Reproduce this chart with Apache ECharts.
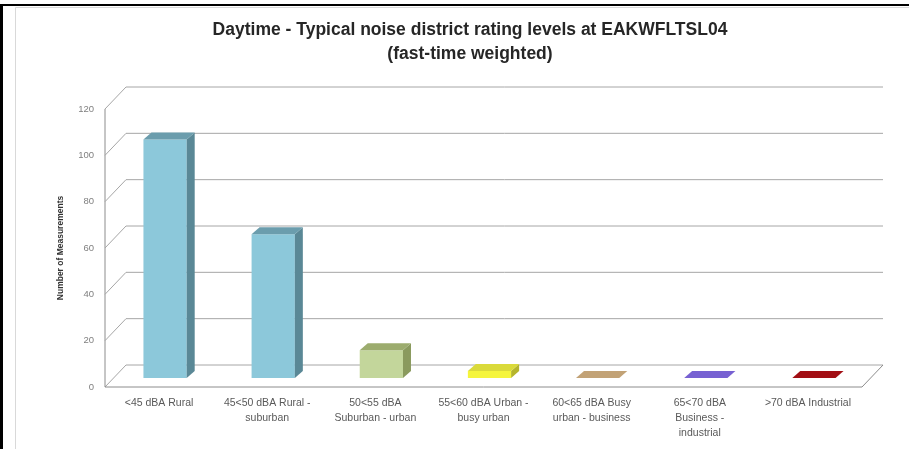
<!DOCTYPE html>
<html>
<head>
<meta charset="utf-8">
<script src="https://cdn.jsdelivr.net/npm/echarts@6/dist/echarts.min.js"></script>
<style>
html,body{margin:0;padding:0;background:#fff;}
#chart{width:909px;height:449px;}
</style>
</head>
<body>
<div id="chart"></div>
<script>
// ---- data ----
const titleText = 'Daytime - Typical noise district rating levels at EAKWFLTSL04\n(fast-time weighted)';
const yAxisTitle = 'Number of Measurements';
const categories = [
  '<45 dBA Rural',
  '45<50 dBA Rural -\nsuburban',
  '50<55 dBA\nSuburban - urban',
  '55<60 dBA Urban -\nbusy urban',
  '60<65 dBA Busy\nurban - business',
  '65<70 dBA\nBusiness -\nindustrial',
  '>70 dBA Industrial'
];
const values = [103, 62, 12, 3, 0, 0, 0];
const yTicks = [0, 20, 40, 60, 80, 100, 120];
const frontColors = ['#8CC8DA', '#8CC8DA', '#C3D69B', '#F5F53C', '#C8A87C', '#7E66D8', '#A8101A'];
const topColors   = ['#6B9DAD', '#6B9DAD', '#9CAC6E', '#DADA3A', '#C2A276', '#7761D2', '#A20E14'];
const sideColors  = ['#5A8896', '#5A8896', '#8A9A5E', '#B5B52C', '#A88C62', '#5F4BB0', '#7E0A10'];

// ---- geometry styling ----
const DEPTH = [21, -22];      // wall depth vector
const BAR_OFF = [6, -9];      // bar front face offset within depth
const BAR_DEPTH = [8, -7];    // bar depth
const LINE_COLOR = '#A6A6A6';

const chart = echarts.init(document.getElementById('chart'), null, {renderer: 'canvas'});

function wallItem(params, api) {
  const cs = params.coordSys;
  const v = api.value(0);
  const y = api.coord([0, v])[1];
  const x0 = cs.x, x1 = cs.x + cs.width;
  const children = [{
    type: 'polyline',
    shape: {points: [[x0, y], [x0 + DEPTH[0], y + DEPTH[1]], [x1 + DEPTH[0], y + DEPTH[1]]]},
    style: {stroke: LINE_COLOR, lineWidth: 1, fill: null}
  }];
  if (v === 0) {
    const yTop = api.coord([0, yTicks[yTicks.length - 1]])[1];
    children.push({
      type: 'polyline',
      shape: {points: [[x0, yTop], [x0, y], [x1, y], [x1 + DEPTH[0], y + DEPTH[1]]]},
      style: {stroke: '#8C8C8C', lineWidth: 1, fill: null}
    });
  }
  return {type: 'group', children: children};
}

function barItem(params, api) {
  const i = api.value(0);
  const v = api.value(1);
  const base = api.coord([i, 0]);
  const top = api.coord([i, v]);
  const bw = api.size([1, 0])[0] * 0.40;
  const xl = base[0] + BAR_OFF[0] - bw / 2;
  const xr = xl + bw;
  const yb = base[1] + BAR_OFF[1];
  const yt = top[1] + BAR_OFF[1];
  const dx = BAR_DEPTH[0], dy = BAR_DEPTH[1];
  const children = [];
  if (yb - yt > 0.5) {
    children.push({
      type: 'rect',
      shape: {x: xl, y: yt, width: bw, height: yb - yt},
      style: {fill: frontColors[i]}
    });
    children.push({
      type: 'polygon',
      shape: {points: [[xr, yt], [xr + dx, yt + dy], [xr + dx, yb + dy], [xr, yb]]},
      style: {fill: sideColors[i]}
    });
  }
  children.push({
    type: 'polygon',
    shape: {points: [[xl, yt], [xr, yt], [xr + dx, yt + dy], [xl + dx, yt + dy]]},
    style: {fill: topColors[i]}
  });
  return {type: 'group', children: children};
}

const option = {
  backgroundColor: '#fff',
  animation: false,
  title: {
    text: titleText,
    left: 470,
    top: 18,
    padding: 0,
    textAlign: 'center',
    textStyle: {
      fontFamily: 'Liberation Sans',
      fontSize: 17.5,
      fontWeight: 'bold',
      color: '#262626',
      lineHeight: 24
    }
  },
  graphic: [
    {type: 'rect', shape: {x: 15.5, y: 7.5, width: 920, height: 460}, style: {fill: null, stroke: '#D9D9D9', lineWidth: 1}, z: -1},
    {type: 'rect', shape: {x: 0, y: 4, width: 909, height: 2}, style: {fill: '#000'}},
    {type: 'rect', shape: {x: 0, y: 4, width: 3, height: 445}, style: {fill: '#000'}}
  ],
  grid: {left: 105, top: 109, width: 757, height: 278},
  xAxis: {
    type: 'category',
    data: categories,
    axisLine: {show: false},
    axisTick: {show: false},
    splitLine: {show: false},
    axisLabel: {
      interval: 0,
      margin: 9,
      color: '#595959',
      fontFamily: 'Liberation Sans',
      fontSize: 10.5,
      lineHeight: 15
    }
  },
  yAxis: {
    type: 'value',
    min: 0,
    max: 120,
    interval: 20,
    name: yAxisTitle,
    nameLocation: 'middle',
    nameGap: 40,
    nameTextStyle: {fontFamily: 'Liberation Sans', fontSize: 8.5, fontWeight: 'bold', color: '#333'},
    axisLine: {show: false},
    axisTick: {show: false},
    splitLine: {show: false},
    axisLabel: {
      margin: 11,
      color: '#7F7F7F',
      fontFamily: 'Liberation Sans',
      fontSize: 9.5
    }
  },
  series: [
    {
      type: 'custom',
      renderItem: wallItem,
      data: yTicks.map(v => [v]),
      encode: {y: 0},
      silent: true,
      z: 1
    },
    {
      type: 'custom',
      renderItem: barItem,
      data: values.map((v, i) => [i, v]),
      encode: {x: 0, y: 1},
      z: 2
    }
  ]
};
chart.setOption(option);
</script>
</body>
</html>
